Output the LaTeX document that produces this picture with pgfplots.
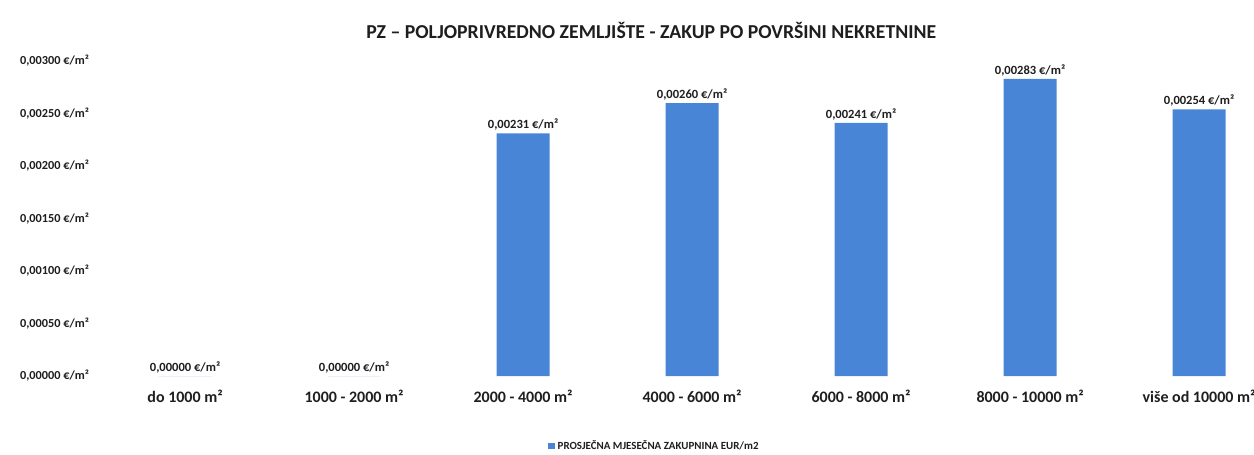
\documentclass[border=0pt]{standalone}
\usepackage{pgfplots}
\pgfplotsset{compat=1.18}
\usepackage{fontspec}
\setmainfont{Carlito}
\definecolor{barblue}{RGB}{72,133,214}
\definecolor{txt}{RGB}{30,30,30}
\begin{document}
\begin{tikzpicture}
\useasboundingbox (-71.25pt,-58.5pt) rectangle (869.25pt,282pt);
\begin{axis}[
  at={(0,0)}, anchor=south west,
  scale only axis, width=869.25pt, height=236.25pt,
  xmin=-0.533, xmax=6.325, ymin=0, ymax=0.003,
  axis line style={draw=none}, major tick length=0,
  /pgf/number format/assume math mode=true,
  scaled y ticks=false,
  xtick={0,...,6},
  xticklabels={do 1000 m², 1000 - 2000 m², 2000 - 4000 m², 4000 - 6000 m², 6000 - 8000 m², 8000 - 10000 m², više od 10000 m²},
  xticklabel style={font=\bfseries\fontsize{12}{13}\selectfont, text=txt, yshift=-7pt},
  ytick={0,0.0005,0.001,0.0015,0.002,0.0025,0.003},
  yticklabel={\pgfmathprintnumber[fixed,fixed zerofill,precision=5,use comma]{\tick} €/m²},
  yticklabel style={font=\bfseries\fontsize{9.2}{10}\selectfont, text=txt, xshift=-1pt},
  title={PZ – POLJOPRIVREDNO ZEMLJIŠTE - ZAKUP PO POVRŠINI NEKRETNINE},
  title style={at={(0.48,1.072)}, anchor=center, font=\bfseries\fontsize{14.8}{16}\selectfont, text=txt},
  ybar, bar width=39.75pt,
  nodes near coords={\pgfmathprintnumber[fixed,fixed zerofill,precision=5,use comma]{\pgfplotspointmeta} €/m²},
  nodes near coords style={font=\bfseries\fontsize{9.4}{10}\selectfont, text=txt, inner sep=2pt},
  legend style={at={(0.483,-0.222)}, anchor=center, draw=none, fill=none,
    font=\bfseries\fontsize{8.2}{9}\selectfont, text=txt},
  legend image code/.code={\fill[barblue] (0,-0.25em) rectangle (0.5em,0.25em);},
]
\addplot[fill=barblue, draw=none] coordinates {
  (0,0) (1,0) (2,0.00231) (3,0.00260) (4,0.00241) (5,0.00283) (6,0.00254)
};
\addlegendentry{PROSJEČNA MJESEČNA ZAKUPNINA EUR/m2}
\end{axis}
\end{tikzpicture}
\end{document}
